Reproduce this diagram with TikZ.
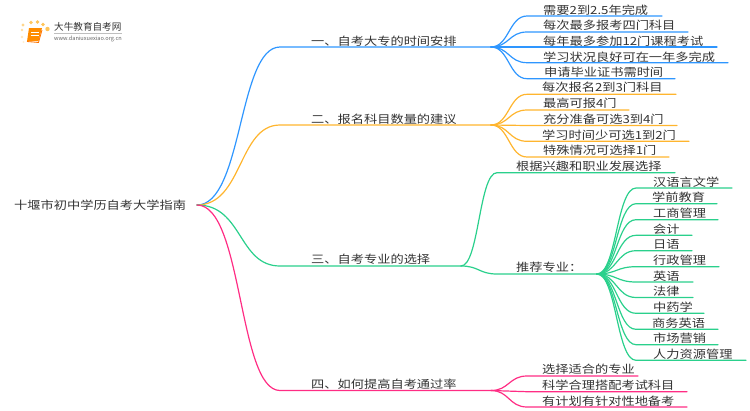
\documentclass[tikz,border=0pt]{standalone}
\usepackage{fontspec}
\setmainfont{Noto Sans CJK SC}
\definecolor{cblue}{HTML}{2E96FF}
\definecolor{corange}{HTML}{FFB52E}
\definecolor{cgreen}{HTML}{2AD08C}
\definecolor{cpink}{HTML}{FF2D84}
\definecolor{ctext}{HTML}{333333}
\tikzset{
  lbl/.style={anchor=west,inner sep=0pt,text=ctext,font=\fontsize{11.2}{12}\selectfont,xscale=1.18,transform shape},
  conn/.style={line width=1.2pt,line cap=round},
}
% \leafitem{name}{hub}{bend end x}{y}{end x}{text x}{text y}{colour}{text}
\newcommand{\leafitem}[9]{%
  \coordinate (#1s) at (#3,#4);
  \coordinate (#1e) at (#5,#4);
  \node[lbl] (#1) at (#6,#7) {#9};
  \draw[conn,#8] (#2) .. controls ($(#2)!0.5!(#2 -| #1s)$) and ($(#1s)!0.5!(#1s -| #2)$) .. (#1s) -- (#1e);
}
\usetikzlibrary{calc}
\begin{document}
\begin{tikzpicture}[x=1pt,y=-1pt]
\useasboundingbox (0,0) rectangle (750,410);
% logo
\fill[corange,opacity=.55] (23,25) circle (1.6);
\fill[corange,opacity=.75] (31,22.5) circle (1.8);
\fill[corange,opacity=.8] (37.5,22) circle (1.8);
\fill[corange,opacity=.8] (43,24.5) circle (1.9);
\fill[corange,opacity=.8] (47.5,29) circle (2.2);
\fill[corange,opacity=.45] (22,30) circle (1.4);
\fill[corange,opacity=.3] (22,37) circle (1.3);
\fill[corange,opacity=.2] (23.5,42) circle (1.1);
\fill[orange!90!yellow] (29,28) -- (42,28) -- (38.5,41) -- (27,41.5) -- cycle;
\draw[orange!90!red,line width=.8pt] (27,41.5) -- (38.5,42.5) -- (42,30);
\draw[white,line width=.6pt] (31,32) -- (39,32);
\draw[white,line width=.6pt] (30.5,35) -- (38.5,35);
\node[anchor=west,inner sep=0pt,text=ctext,font=\fontsize{9.6}{10}\selectfont] (logotitle) at (54,27) {大牛教育自考网};
\draw[black!25,line width=.5pt] (54,33.3) -- (122,33.3);
\node[anchor=west,inner sep=0pt,text=black!60,font=\fontsize{5.6}{6}\selectfont] (logourl) at (54,38.7) {www.daniuxuexiao.org.cn};
% root
\node[lbl] (root) at (14,205) {十堰市初中学历自考大学指南};
\coordinate (r) at (197,205);
% branches
\coordinate (b1s) at (280,47); \coordinate (h1) at (491,47);
\coordinate (b2s) at (280,125); \coordinate (h2) at (491,125);
\coordinate (b3s) at (280,266); \coordinate (h3) at (461,266);
\coordinate (b4s) at (280,390.5); \coordinate (h4) at (491,390.5);
\node[lbl] (b1) at (311,41) {一、自考大专的时间安排};
\node[lbl] (b2) at (311,119) {二、报名科目数量的建议};
\node[lbl] (b3) at (311,259.5) {三、自考专业的选择};
\node[lbl] (b4) at (311,384) {四、如何提高自考通过率};
\draw[conn,cblue] (r) .. controls (243,205) and (238,47) .. (b1s) -- (h1);
\draw[conn,corange] (r) .. controls (243,205) and (238,125) .. (b2s) -- (h2);
\draw[conn,cgreen] (r) .. controls (243,205) and (238,266) .. (b3s) -- (h3);
\draw[conn,cpink] (r) .. controls (243,205) and (238,390.5) .. (b4s) -- (h4);
% leaves
\leafitem{a1}{h1}{527}{16}{662}{543}{10}{cblue}{需要2到2.5年完成}
\leafitem{a2}{h1}{527}{32}{688}{543}{25.5}{cblue}{每次最多报考四门科目}
\leafitem{a3}{h1}{527}{47}{717}{543}{41}{cblue}{每年最多参加12门课程考试}
\leafitem{a4}{h1}{527}{62.7}{728}{543}{57}{cblue}{学习状况良好可在一年多完成}
\leafitem{a5}{h1}{527}{78.7}{675}{544}{72}{cblue}{申请毕业证书需时间}
\leafitem{c1}{h2}{527}{94.3}{676}{542}{87.5}{corange}{每次报名2到3门科目}
\leafitem{c2}{h2}{527}{110}{629}{543}{103}{corange}{最高可报4门}
\leafitem{c3}{h2}{527}{125.5}{677}{543}{119}{corange}{充分准备可选3到4门}
\leafitem{c4}{h2}{527}{141.3}{689}{542}{135}{corange}{学习时间少可选1到2门}
\leafitem{c5}{h2}{527}{157}{669}{543}{150.5}{corange}{特殊情况可选择1门}
\leafitem{d1}{h3}{497}{172.7}{675}{516}{166}{cgreen}{根据兴趣和职业发展选择}
\leafitem{d2}{h3}{497}{274}{597}{516}{267.5}{cgreen}{推荐专业：}
\coordinate (h5) at (597,274);
\leafitem{e1}{h5}{636}{188}{732}{653}{182}{cgreen}{汉语言文学}
\leafitem{e2}{h5}{636}{203.7}{717}{652}{197.5}{cgreen}{学前教育}
\leafitem{e3}{h5}{636}{219.7}{718}{653}{213}{cgreen}{工商管理}
\leafitem{e4}{h5}{636}{235.3}{692}{653}{229}{cgreen}{会计}
\leafitem{e5}{h5}{636}{250.7}{692}{653}{244.5}{cgreen}{日语}
\leafitem{e6}{h5}{636}{266.7}{719}{653}{260}{cgreen}{行政管理}
\leafitem{e7}{h5}{636}{282}{693}{653}{276}{cgreen}{英语}
\leafitem{e8}{h5}{636}{297.5}{693}{653}{291.5}{cgreen}{法律}
\leafitem{e9}{h5}{636}{313.3}{704}{653}{307}{cgreen}{中药学}
\leafitem{e10}{h5}{636}{329.3}{718}{652}{323}{cgreen}{商务英语}
\leafitem{e11}{h5}{636}{344.7}{718}{653}{338.5}{cgreen}{市场营销}
\leafitem{e12}{h5}{636}{360.3}{746}{653}{354}{cgreen}{人力资源管理}
\leafitem{f1}{h4}{527}{376}{638}{542}{369.5}{cpink}{选择适合的专业}
\leafitem{f2}{h4}{527}{391.7}{687}{542}{385}{cpink}{科学合理搭配考试科目}
\leafitem{f3}{h4}{527}{407}{687}{542}{401}{cpink}{有计划有针对性地备考}
\end{tikzpicture}
\end{document}
